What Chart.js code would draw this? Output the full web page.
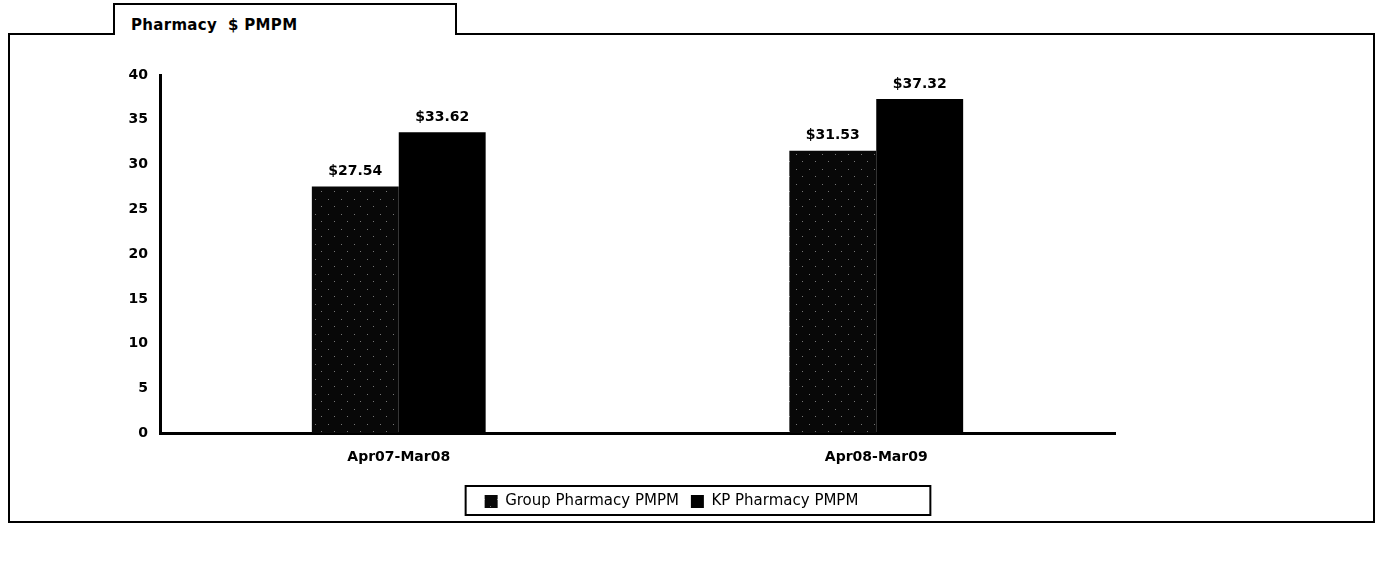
<!DOCTYPE html>
<html>
<head>
<meta charset="utf-8">
<script src="https://cdn.jsdelivr.net/npm/chart.js@4"></script>
<style>
    html, body { margin: 0; padding: 0; background: #fff; }
    body { width: 1375px; height: 561px; position: relative; overflow: hidden; }
    .frame {
        position: absolute; left: 8px; top: 33px; width: 1363px; height: 486px;
        border: 2px solid #000;
    }
    .tab {
        position: absolute; left: 113px; top: 3px; width: 344px; height: 32px;
        border: 2px solid #000; border-bottom: none; background: #fff;
        font: bold 15px "DejaVu Sans", sans-serif; box-sizing: border-box;
        padding: 11px 0 0 16px; letter-spacing: 0.3px;
    }
    #pharmacyChart { position: absolute; left: 0; top: 0; }
</style>
</head>
<body>
<div class="frame"></div>
<div class="tab">Pharmacy&nbsp; $ PMPM</div>
<canvas id="pharmacyChart" width="1375" height="561"></canvas>
<script>
const periods = ["Apr07-Mar08", "Apr08-Mar09"];
const groupPmpm = [27.54, 31.53];
const kpPmpm = [33.62, 37.32];
const yTicks = [0, 5, 10, 15, 20, 25, 30, 35, 40];

// speckled dark fill for the group bars
function speckle() {
    const tile = document.createElement('canvas');
    tile.width = 13;
    tile.height = 15;
    const t = tile.getContext('2d');
    t.fillStyle = '#080808';
    t.fillRect(0, 0, 13, 15);
    t.fillStyle = '#777';
    t.fillRect(3, 4, 1, 1);
    t.fillRect(9, 11, 1, 1);
    return t.createPattern(tile, 'repeat');
}

// value labels above each bar
const barLabels = {
    id: 'barLabels',
    afterDatasetsDraw(chart) {
        const ctx = chart.ctx;
        ctx.save();
        ctx.font = 'bold 14px "DejaVu Sans", sans-serif';
        ctx.fillStyle = '#000';
        ctx.textAlign = 'center';
        ctx.textBaseline = 'bottom';
        chart.data.datasets.forEach((ds, i) => {
            chart.getDatasetMeta(i).data.forEach((bar, j) => {
                ctx.fillText('$' + ds.data[j].toFixed(2), bar.x, bar.y - 8);
            });
        });
        ctx.restore();
    }
};

// nudge the legend right and draw a box round it
const legendBox = {
    id: 'legendBox',
    afterLayout(chart) {
        chart.legend.left += 54;
        chart.legend.right += 54;
    },
    afterDraw(chart) {
        const boxes = chart.legend.legendHitBoxes;
        if (!boxes || !boxes.length) return;
        const left = Math.min(...boxes.map(b => b.left)) - 19;
        const right = Math.max(...boxes.map(b => b.left + b.width)) + 72;
        const top = boxes[0].top - 8;
        const bottom = boxes[0].top + boxes[0].height + 6;
        const ctx = chart.ctx;
        ctx.save();
        ctx.strokeStyle = '#000';
        ctx.lineWidth = 2;
        ctx.strokeRect(left, top, right - left, bottom - top);
        ctx.restore();
    }
};

const ctx = document.getElementById('pharmacyChart');
const pharmacyChart = new Chart(ctx, {
    type: 'bar',
    data: {
        labels: periods,
        datasets: [{
            label: 'Group Pharmacy PMPM',
            data: groupPmpm,
            backgroundColor: speckle(),
            borderWidth: 0
        }, {
            label: 'KP Pharmacy PMPM',
            data: kpPmpm,
            backgroundColor: '#000000',
            borderWidth: 0
        }]
    },
    options: {
        responsive: false,
        animation: false,
        layout: {
            padding: { left: 120, right: 260, top: 75, bottom: 42 }
        },
        datasets: {
            bar: { categoryPercentage: 0.364, barPercentage: 1.0 }
        },
        scales: {
            x: {
                grid: { display: false, drawTicks: false },
                border: { color: '#000', width: 3 },
                ticks: {
                    color: '#000',
                    padding: 16,
                    font: { family: '"DejaVu Sans", sans-serif', size: 14, weight: 'bold' }
                }
            },
            y: {
                min: 0,
                max: 40,
                afterBuildTicks: (scale) => { scale.ticks = yTicks.map(v => ({ value: v })); },
                afterFit: (scale) => { scale.width = 40; },
                grid: { display: false, drawTicks: false },
                border: { color: '#000', width: 3 },
                ticks: {
                    color: '#000',
                    padding: 12,
                    font: { family: '"DejaVu Sans", sans-serif', size: 14, weight: 'bold' }
                }
            }
        },
        plugins: {
            legend: {
                position: 'bottom',
                labels: {
                    color: '#000',
                    boxWidth: 13,
                    boxHeight: 13,
                    padding: 12,
                    font: { family: '"DejaVu Sans", sans-serif', size: 15 }
                }
            },
            tooltip: { enabled: false }
        }
    },
    plugins: [barLabels, legendBox]
});
</script>
</body>
</html>
